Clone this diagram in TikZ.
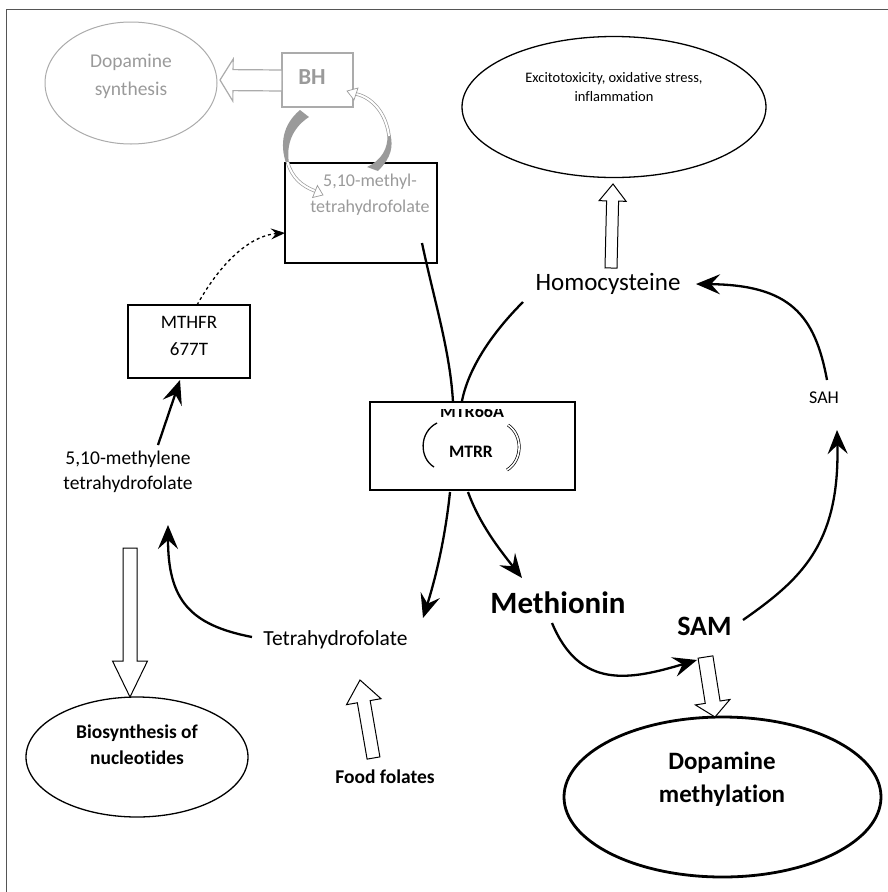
\documentclass[tikz,border=0pt]{standalone}
\usepackage{fontspec}
\setmainfont{Carlito}[Ligatures=NoCommon]
\usetikzlibrary{arrows.meta,shapes.geometric,calc}
\definecolor{txtgray}{HTML}{9A9A9A}
\definecolor{lingray}{HTML}{ABABAB}
\definecolor{framegray}{HTML}{555555}
\newcommand\fsz[2]{\fontsize{#1}{#2}\selectfont}
\newcommand\blockarr[6]{%
  \coordinate (hb) at ($(#3)!#6!(#2)$);
  \draw[#1] ($(#2)!#4!90:(#3)$) -- ($(hb)!#4!90:(#3)$) -- ($(hb)!#5!90:(#3)$) -- (#3) -- ($(hb)!#5!-90:(#3)$) -- ($(hb)!#4!-90:(#3)$) -- ($(#2)!#4!-90:(#3)$) -- cycle;}
\begin{document}
\begin{tikzpicture}[x=1pt,y=-1pt,
  flow/.style={line width=2.3pt,-{Stealth[length=24pt,width=20pt,inset=9pt]}},
  plainline/.style={line width=2.3pt},
  hollow/.style={draw=black,fill=white,line width=1pt,line join=miter},
  ghollow/.style={draw=lingray,fill=white,line width=1.2pt,line join=miter},
  box/.style={draw,rectangle,inner sep=0pt,line width=1.3pt},
  oval/.style={draw,ellipse,inner sep=0pt,line width=1.3pt},
  lbl/.style={inner sep=0pt,align=center},
  gdouble/.style={draw=txtgray,double=white,double distance=2pt,line width=0.7pt}]
\useasboundingbox (0,0) rectangle (888,892);
\draw[framegray,line width=1pt] (6,892) -- (6,9) -- (888,9);

% ---------- shapes ----------
\node[oval,draw=lingray,line width=1pt,minimum width=172pt,minimum height=122pt] (dopsyn) at (131,83) {};
\node[lbl,text=txtgray,font=\fsz{19.5}{28}] (dopsyntxt) at (131,76) {Dopamine\\synthesis};

\node[box,draw=lingray,line width=1.5pt,minimum width=71pt,minimum height=54pt] (bh) at (317.5,80) {};
\node[lbl,text=txtgray,font=\bfseries\fsz{23}{28}] (bhtxt) at (312,77) {BH};

\node[box,line width=1.6pt,minimum width=152pt,minimum height=100pt] (mthf) at (361,213) {};
\node[lbl,text=txtgray,font=\fsz{18}{26}] (mthftxt) at (370,195) {5,10-methyl-\\tetrahydrofolate};

\node[oval,minimum width=304pt,minimum height=141pt] (excito) at (614,107) {};
\node[lbl,font=\fsz{14.5}{19}] (excitotxt) at (614,87) {Excitotoxicity, oxidative stress,\\inflammation};

\node[box,minimum width=122pt,minimum height=73pt] (mthfr) at (189,341.5) {};
\node[lbl,font=\fsz{19}{27}] (mthfrtxt) at (189,336) {MTHFR\\677T};

\node[lbl,font=\fsz{19.5}{25}] (methylene) at (128,471.5) {5,10-methylene\\tetrahydrofolate};

\node[oval,minimum width=222pt,minimum height=120pt] (biosyn) at (137,757) {};
\node[lbl,font=\bfseries\fsz{19.5}{26}] (biosyntxt) at (137,745) {Biosynthesis of\\nucleotides};

\node[lbl,font=\fsz{21.5}{25}] (thf) at (335.5,640) {Tetrahydrofolate};
\node[lbl,font=\bfseries\fsz{19.5}{24}] (food) at (385,777) {Food folates};

\node[box,minimum width=205pt,minimum height=88pt] (mtr) at (472.5,446) {};
\begin{scope}
\clip (370,409) rectangle (575,490);
\node[lbl,font=\bfseries\fsz{18}{20},anchor=base] (mtrtxt) at (472,417) {MTR66A};
\end{scope}
\node[lbl,font=\bfseries\fsz{17.5}{20}] (mtrr) at (471,452) {MTRR};

\node[lbl,font=\fsz{25}{28}] (homo) at (608,284) {Homocysteine};
\node[lbl,font=\fsz{18}{22}] (sah) at (824,398) {SAH};
\node[lbl,font=\bfseries\fsz{31}{34}] (met) at (558,603) {Methionin};
\node[lbl,font=\bfseries\fsz{28}{32}] (sam) at (704.5,626) {SAM};

\node[oval,line width=2.8pt,minimum width=317pt,minimum height=160pt] (dopmeth) at (722.5,797) {};
\node[lbl,font=\bfseries\fsz{25}{33}] (dopmethtxt) at (722,779) {Dopamine\\methylation};

% ---------- connector end points ----------
\coordinate (bhL) at (282,80.5);      \coordinate (dsR) at (220,80);
\coordinate (homoB) at (611,268);     \coordinate (exB) at (613,184);
\coordinate (mlB) at (130,548);       \coordinate (bsT) at (130,697);
\coordinate (foodT) at (373.5,758);   \coordinate (thfB) at (360,680);
\coordinate (samB) at (705.5,657);    \coordinate (dmT) at (715,717);

\coordinate (mthfrT) at (197,305);    \coordinate (mthfL) at (285,233);
\coordinate (mlT) at (158,445);       \coordinate (mthfrB) at (180,380);
\coordinate (thfL) at (252,637);      \coordinate (mlBr) at (168,525);
\coordinate (mtrB1) at (450,492);     \coordinate (thfTr) at (423,618);
\coordinate (mtrB2) at (468,492);     \coordinate (metT) at (522,578);
\coordinate (mthfIn) at (422,243);    \coordinate (mtrT1) at (453,402);
\coordinate (homoL) at (523,302);     \coordinate (mtrT2) at (462,401);
\coordinate (sahT) at (827,380);      \coordinate (homoR) at (696,284);
\coordinate (samR) at (743,620);      \coordinate (sahB) at (837,430);
\coordinate (metB) at (552,623);      \coordinate (samL) at (697,660);

% ---------- block arrows ----------
\blockarr{ghollow}{bhL}{dsR}{10.5pt}{21pt}{13pt}
\blockarr{hollow}{homoB}{exB}{6pt}{13.5pt}{17pt}
\blockarr{hollow}{mlB}{bsT}{7pt}{17.5pt}{36pt}
\blockarr{hollow}{foodT}{thfB}{6.5pt}{17.5pt}{22pt}
\blockarr{hollow}{samB}{dmT}{7.5pt}{17.5pt}{15pt}

% ---------- BH recycling arrows ----------
\fill[txtgray] (300,110) .. controls (282,125) and (280,145) .. (286,163) -- (289,163) .. controls (286,145) and (292,128) .. (309,117) -- cycle;
\draw[gdouble] (287.5,162) .. controls (292,178) and (302,186) .. (315,191);
\draw[draw=txtgray,fill=white,line width=0.7pt] (323,195) -- (317.4,185.5) -- (312.6,197.5) -- cycle;
\fill[txtgray] (378,171) .. controls (392,157) and (393,146) .. (390.5,135) -- (387.5,135) .. controls (388,148) and (382,160) .. (367,167) -- cycle;
\draw[gdouble] (389,136) .. controls (386,112) and (371,97) .. (356,94);
\draw[draw=txtgray,fill=white,line width=0.7pt] (347,91) -- (358,88) -- (354,100) -- cycle;

% ---------- MTRR brackets ----------
\draw[line width=1.3pt] (437,423) .. controls (419,432) and (419,458) .. (434,467);
\draw[line width=0.7pt,double=white,double distance=1.6pt] (508,425) .. controls (523,435) and (523,460) .. (507,470);

% ---------- pathway connectors ----------
\draw[dashed,line width=1.3pt,-{Stealth[length=14pt,width=11pt,inset=5pt]}] (mthfrT) .. controls (225,255) and (255,235) .. (mthfL);
\draw[flow] (mlT) -- (mthfrB);
\draw[flow] (thfL) .. controls (190,625) and (168,600) .. (mlBr);
\draw[flow] (mtrB1) .. controls (445,540) and (435,580) .. (thfTr);
\draw[flow] (mtrB2) .. controls (480,525) and (500,550) .. (metT);
\draw[plainline] (mthfIn) .. controls (434,300) and (450,350) .. (mtrT1);
\draw[plainline] (homoL) .. controls (490,335) and (468,370) .. (mtrT2);
\draw[flow] (sahT) .. controls (815,315) and (790,285) .. (homoR);
\draw[flow] (samR) .. controls (800,580) and (840,545) .. (sahB);
\draw[flow] (metB) .. controls (580,690) and (630,680) .. (samL);
\end{tikzpicture}
\end{document}
